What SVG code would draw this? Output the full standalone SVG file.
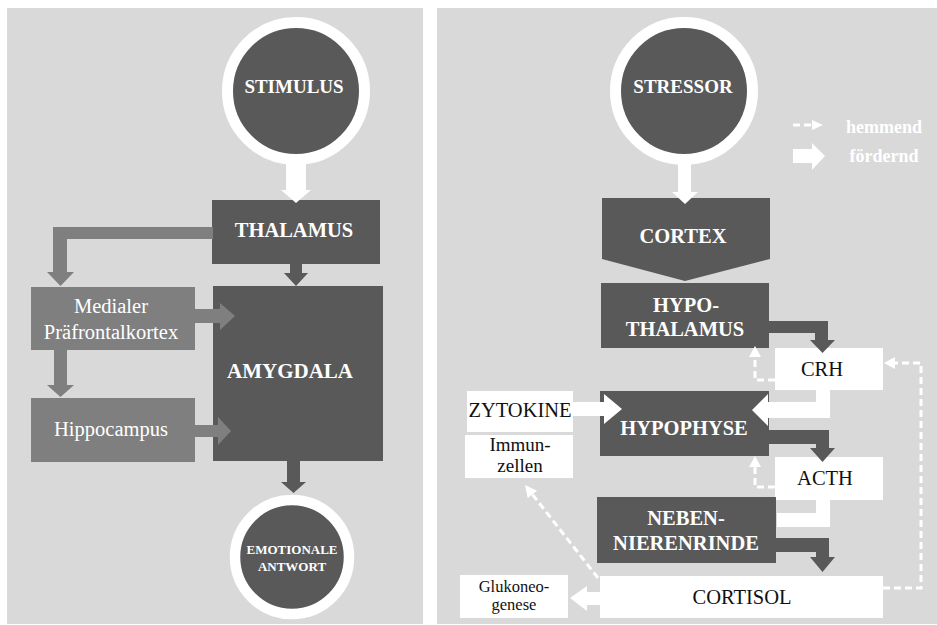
<svg xmlns="http://www.w3.org/2000/svg" width="937" height="625" viewBox="0 0 937 625">
  <style>
    .panel { fill: #d9d9d9; }
    .dark { fill: #595959; }
    .mid { fill: #7f7f7f; }
    .light { fill: #ffffff; }
    .ring { fill: #595959; stroke: #ffffff; }
    .lbl-w { font-family: "Liberation Serif", "Times New Roman", serif; font-weight: bold; fill: #ffffff; text-anchor: middle; }
    .lbl-r { font-family: "Liberation Serif", "Times New Roman", serif; fill: #ffffff; text-anchor: middle; }
    .lbl-k { font-family: "Liberation Serif", "Times New Roman", serif; fill: #111111; text-anchor: middle; }
    .dash { fill: none; stroke: #ffffff; stroke-width: 3; stroke-dasharray: 7 4; }
    .head { fill: #ffffff; }
  </style>

  <!-- two background panels -->
  <rect class="panel" x="7" y="8" width="416" height="616"/>
  <rect class="panel" x="437" y="8" width="500" height="616"/>

  <!-- ===== left panel: emotional processing ===== -->
  <g id="stimulus">
    <circle class="ring" cx="296" cy="91" r="68.5" stroke-width="11"/>
    <text class="lbl-w" x="294" y="93" font-size="19">STIMULUS</text>
  </g>
  <g id="thalamus">
    <rect class="dark" x="212" y="200" width="168" height="64"/>
    <text class="lbl-w" x="294" y="237" font-size="20.5">THALAMUS</text>
  </g>
  <g id="amygdala">
    <rect class="dark" x="213" y="286" width="170" height="175"/>
    <text class="lbl-w" x="290" y="378" font-size="21">AMYGDALA</text>
  </g>
  <g id="praefrontalkortex">
    <rect class="mid" x="31" y="287" width="164" height="63"/>
    <text class="lbl-r" x="111" y="313" font-size="20.5">Medialer</text>
    <text class="lbl-r" x="111" y="339" font-size="20.5">Präfrontalkortex</text>
  </g>
  <g id="hippocampus">
    <rect class="mid" x="31" y="398" width="164" height="64"/>
    <text class="lbl-r" x="111" y="436" font-size="20.5">Hippocampus</text>
  </g>
  <g id="emotionale-antwort">
    <circle class="ring" cx="292" cy="557" r="57" stroke-width="10.5"/>
    <text class="lbl-w" x="292" y="554" font-size="13">EMOTIONALE</text>
    <text class="lbl-w" x="292" y="571" font-size="13">ANTWORT</text>
  </g>

  <!-- ===== right panel: stress axis ===== -->
  <g id="stressor">
    <circle class="ring" cx="684" cy="91" r="68.5" stroke-width="11"/>
    <text class="lbl-w" x="683" y="93" font-size="19">STRESSOR</text>
  </g>
  <g id="legend">
    <path class="dash" d="M793,125 H812"/>
    <polygon class="head" points="812,120 812,130 823,125"/>
    <text class="lbl-w" x="884" y="133" font-size="18">hemmend</text>
    <polygon class="head" points="793,149 812,149 812,143 825,156 812,170 812,163 793,163"/>
    <text class="lbl-w" x="884" y="162" font-size="18">fördernd</text>
  </g>
  <g id="cortex">
    <polygon class="dark" points="602,198 770,198 770,259 685,281 602,259"/>
    <text class="lbl-w" x="683" y="243" font-size="20.5">CORTEX</text>
  </g>
  <g id="hypothalamus">
    <rect class="dark" x="601" y="283" width="168" height="65"/>
    <text class="lbl-w" x="686" y="312" font-size="20.5">HYPO-</text>
    <text class="lbl-w" x="685" y="336" font-size="20.5">THALAMUS</text>
  </g>
  <g id="crh">
    <rect class="light" x="775" y="348" width="108" height="42"/>
    <text class="lbl-k" x="822" y="376" font-size="20.5">CRH</text>
  </g>
  <g id="zytokine">
    <rect class="light" x="467" y="391" width="106" height="41"/>
    <text class="lbl-k" x="520" y="417" font-size="20.5">ZYTOKINE</text>
  </g>
  <g id="immunzellen">
    <rect class="light" x="465" y="435" width="108" height="43"/>
    <text class="lbl-k" x="520" y="451" font-size="19">Immun-</text>
    <text class="lbl-k" x="520" y="472" font-size="19">zellen</text>
  </g>
  <g id="hypophyse">
    <rect class="dark" x="600" y="391" width="169" height="65"/>
    <text class="lbl-w" x="684" y="435" font-size="20.5">HYPOPHYSE</text>
  </g>
  <g id="acth">
    <rect class="light" x="775" y="457" width="108" height="43"/>
    <text class="lbl-k" x="825" y="485" font-size="20.5">ACTH</text>
  </g>
  <g id="nebennierenrinde">
    <rect class="dark" x="597" y="497" width="179" height="66"/>
    <text class="lbl-w" x="686" y="525" font-size="20.5">NEBEN-</text>
    <text class="lbl-w" x="686" y="550" font-size="20.5">NIERENRINDE</text>
  </g>
  <g id="cortisol">
    <rect class="light" x="600" y="576" width="283" height="42"/>
    <text class="lbl-k" x="742" y="604" font-size="20.5">CORTISOL</text>
  </g>
  <g id="glukoneogenese">
    <rect class="light" x="460" y="575" width="108" height="43"/>
    <text class="lbl-k" x="514" y="592" font-size="16.5">Glukoneo-</text>
    <text class="lbl-k" x="514" y="610" font-size="16.5">genese</text>
  </g>

  <!-- ===== connectors ===== -->
  <g id="connectors">
    <!-- left panel -->
    <polygon class="light" points="286,160 306,160 306,190 311,190 296,203 281,190 286,190"/>
    <polygon class="mid" points="213,227 53,227 53,272 47,272 60.5,286 74,272 67,272 67,239 213,239"/>
    <polygon class="dark" points="290,264 302,264 302,273 308,273 296,286 284,273 290,273"/>
    <polygon class="mid" points="195,309 220,309 220,303 235,316 220,330 220,323 195,323"/>
    <polygon class="mid" points="54,350 67,350 67,385 74,385 60.5,397 47,385 54,385"/>
    <polygon class="mid" points="195,425 218,425 218,417 231,431 218,445 218,437 195,437"/>
    <polygon class="dark" points="287,461 300,461 300,482 306,482 293.5,493 281,482 287,482"/>

    <!-- right panel: stimulating paths -->
    <polygon class="light" points="678,160 691,160 691,192 698,192 685,204 672,192 678,192"/>
    <polygon class="dark" points="769,321 828,321 828,340 835,340 822.5,353 810,340 815,340 815,333 769,333"/>
    <polygon class="light" points="816,390 830,390 830,418 768,418 768,426 752,410 768,394 768,402 816,402"/>
    <polygon class="light" points="573,402 604,402 604,394 622,409 604,424 604,416 573,416"/>
    <polygon class="dark" points="769,430 829,430 829,448 835,448 822.5,462 810,448 816,448 816,444 769,444"/>
    <polygon class="light" points="816,500 830,500 830,527 777,527 777,513 816,513"/>
    <polygon class="dark" points="776,538 829,538 829,557 835,557 822.5,572 810,557 816,557 816,552 776,552"/>
    <polygon class="light" points="600,592 587,592 587,586 570,598 587,611 587,605 600,605"/>

    <!-- right panel: inhibiting paths -->
    <path class="dash" d="M775,380 H755 V357"/>
    <polygon class="head" points="749,357 761,357 755,346"/>
    <path class="dash" d="M775,487 H755 V467"/>
    <polygon class="head" points="749,467 761,467 755,456"/>
    <path class="dash" d="M883,588 H921 V363 H895"/>
    <polygon class="head" points="895,357 895,369 884,363"/>
    <path class="dash" d="M598,578 L532.4,494.4"/>
    <polygon class="head" points="525,485 537.1,490.7 527.7,498.1"/>
  </g>
</svg>
